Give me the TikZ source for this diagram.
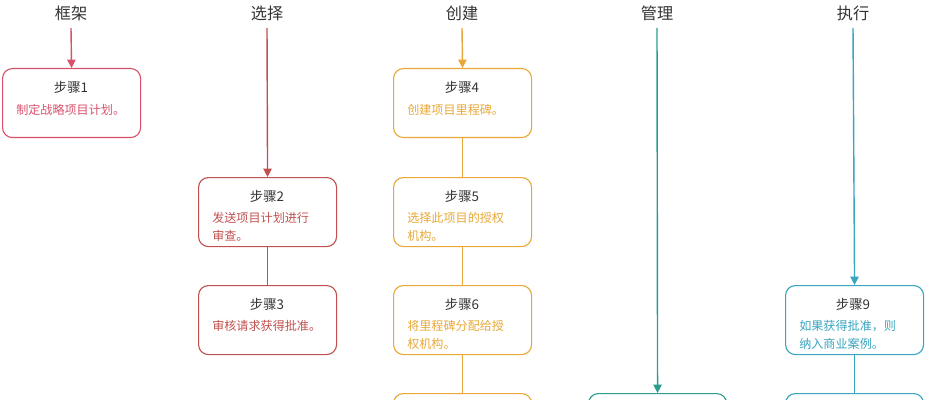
\documentclass[tikz,border=0pt]{standalone}
\usepackage{fontspec}
\setmainfont{Noto Sans CJK SC}
\usetikzlibrary{arrows.meta}
\definecolor{cA}{HTML}{D9506A}
\definecolor{cB}{HTML}{C0504D}
\definecolor{cC}{HTML}{E8A838}
\definecolor{cD}{HTML}{2A9D8F}
\definecolor{cE}{HTML}{3AA5BF}
\definecolor{tt}{HTML}{333333}
\tikzset{
  box/.style={draw=#1, line width=0.8pt, rounded corners=7pt, minimum width=138*0.025cm, minimum height=69*0.025cm, anchor=north west, inner sep=0},
  head/.style={font=\fontsize{11.5}{13}\selectfont, text=tt},
  ttl/.style={font=\fontsize{9.5}{11}\selectfont, text=tt},
  dsc/.style={font=\fontsize{8.6}{12.6}\selectfont, text=#1, anchor=north west, align=left, inner sep=0},
  arr/.style={draw=#1, line width=1pt, -{Triangle[length=6pt,width=6pt]}},
  ln/.style={draw=#1, line width=1pt},
}
\begin{document}
\begin{tikzpicture}[x=0.025cm,y=-0.025cm]
\useasboundingbox (0,0) rectangle (925,400);
\clip (0,0) rectangle (925,400);
% headers
\node[head] (h1) at (71,13) {框架};
\node[head] (h2) at (267,13) {选择};
\node[head] (h3) at (462,13) {创建};
\node[head] (h4) at (657,13) {管理};
\node[head] (h5) at (853,13) {执行};
\coordinate (s1) at (71,28); \coordinate (s2) at (267,28); \coordinate (s3) at (462,28);
\coordinate (s4) at (657,28); \coordinate (s5) at (853,28);
% boxes
\node[box=cA] (b1) at (2,68) {};
\node[box=cB] (b2) at (198,177) {};
\node[box=cB] (b3) at (198,285) {};
\node[box=cC] (b4) at (393,68) {};
\node[box=cC] (b5) at (393,177) {};
\node[box=cC] (b6) at (393,285) {};
\node[box=cC] (b7) at (393,393) {};
\node[box=cD] (b8) at (588,393) {};
\node[box=cE] (b9) at (785,285) {};
\node[box=cE] (b10) at (785,393) {};
% titles
\node[ttl] (t1) at (71,87) {步骤1};
\node[ttl] (t2) at (267,196) {步骤2};
\node[ttl] (t3) at (267,304) {步骤3};
\node[ttl] (t4) at (462,87) {步骤4};
\node[ttl] (t5) at (462,196) {步骤5};
\node[ttl] (t6) at (462,304) {步骤6};
\node[ttl] (t9) at (853,304) {步骤9};
% descriptions
\node[dsc=cA] (d1) at (16,104) {制定战略项目计划。};
\node[dsc=cB] (d2) at (212,212) {发送项目计划进行\\审查。};
\node[dsc=cB] (d3) at (212,320) {审核请求获得批准。};
\node[dsc=cC] (d4) at (407,104) {创建项目里程碑。};
\node[dsc=cC] (d5) at (407,212) {选择此项目的授权\\机构。};
\node[dsc=cC] (d6) at (407,320) {将里程碑分配给授\\权机构。};
\node[dsc=cE] (d9) at (799,320) {如果获得批准，则\\纳入商业案例。};
% connectors
\draw[arr=cA] (s1) -- (b1.north);
\draw[arr=cB] (s2) -- (b2.north);
\draw[ln=cB] (b2.south) -- (b3.north);
\draw[arr=cC] (s3) -- (b4.north);
\draw[ln=cC] (b4.south) -- (b5.north);
\draw[ln=cC] (b5.south) -- (b6.north);
\draw[ln=cC] (b6.south) -- (b7.north);
\draw[arr=cD] (s4) -- (b8.north);
\draw[arr=cE] (s5) -- (b9.north);
\draw[ln=cE] (b9.south) -- (b10.north);
\end{tikzpicture}
\end{document}
